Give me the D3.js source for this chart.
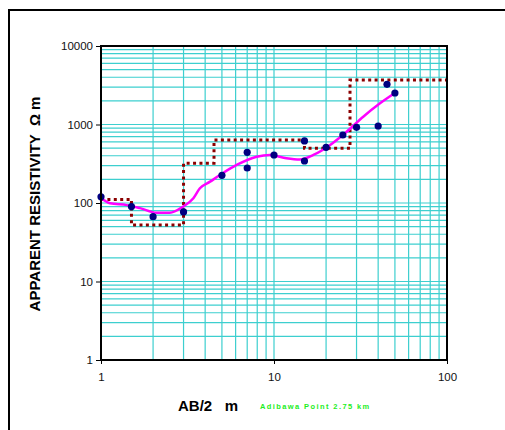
<!DOCTYPE html>
<html>
<head>
<meta charset="utf-8">
<script src="https://cdn.jsdelivr.net/npm/d3@7"></script>
<style>
  body { margin: 0; background: #fff; }
  svg { display: block; font-family: "Liberation Sans", Arial, sans-serif; }
</style>
</head>
<body>
<div id="chart"></div>
<script>
// field measurements (AB/2 in m, apparent resistivity in ohm m)
const spacing = [1, 1.5, 2, 3, 5, 7, 7, 10, 15, 15, 20, 25, 30, 40, 45, 50];
const resistivity = [120, 90, 67, 77, 225, 442, 279, 409, 617, 343, 512, 735, 921, 957, 3250, 2520];

// smooth fitted curve
const curveX = [1, 1.13, 1.41, 1.68, 2.1, 2.5, 2.98, 3.42, 3.73, 4.27, 4.87, 6.08, 7.94, 9.48, 11.8, 14.1, 16.9, 21.1, 26.3, 32.8, 41, 50];
const curveY = [116, 99, 94, 86, 75, 75, 90, 115, 154, 187, 227, 305, 389, 409, 371, 358, 409, 548, 809, 1257, 1862, 2520];

// layered model: layer bottoms (depth) and layer resistivities
const layerDepth = [1.5, 3, 4.5, 15, 27.5, 100];
const layerRho = [111, 52.5, 320, 635, 497, 3690];

const xTicks = [1, 10, 100];
const yTicks = [1, 10, 100, 1000, 10000];

const width = 505, height = 430;
const margin = { left: 101, top: 46, right: 58, bottom: 70 };

const svg = d3.select('#chart').append('svg')
  .attr('width', width)
  .attr('height', height);

// outer frame (only top and left edges show)
svg.append('rect')
  .attr('x', 9).attr('y', 10)
  .attr('width', 520).attr('height', 440)
  .attr('fill', 'none')
  .attr('stroke', '#000')
  .attr('stroke-width', 2);

const x = d3.scaleLog().domain([1, 100]).range([margin.left, width - margin.right]);
const y = d3.scaleLog().domain([1, 10000]).range([height - margin.bottom, margin.top]);

// minor grid
const gridX = [];
for (let d = 1; d < 100; d *= 10) for (let k = 2; k <= 10; k++) gridX.push(d * k);
const gridY = [];
for (let d = 1; d < 10000; d *= 10) for (let k = 2; k <= 10; k++) gridY.push(d * k);

const grid = svg.append('g').attr('stroke', '#3dcfcf').attr('stroke-width', 1.2);
grid.selectAll('.gx').data(gridX).enter().append('line')
  .attr('x1', d => x(d)).attr('x2', d => x(d))
  .attr('y1', y.range()[0]).attr('y2', y.range()[1]);
grid.selectAll('.gy').data(gridY).enter().append('line')
  .attr('x1', x.range()[0]).attr('x2', x.range()[1])
  .attr('y1', d => y(d)).attr('y2', d => y(d));

// layered model as dotted steps
const steps = [];
layerDepth.forEach((dep, i) => {
  const start = i === 0 ? 1 : layerDepth[i - 1];
  steps.push([start, layerRho[i]]);
  steps.push([dep, layerRho[i]]);
});
svg.append('path')
  .datum(steps)
  .attr('d', d3.line().x(d => x(d[0])).y(d => y(d[1])))
  .attr('fill', 'none')
  .attr('stroke', '#8b0000')
  .attr('stroke-width', 3)
  .attr('stroke-dasharray', '3,3.4');

// fitted curve
const curve = curveX.map((v, i) => [v, curveY[i]]);
svg.append('path')
  .datum(curve)
  .attr('d', d3.line().curve(d3.curveMonotoneX).x(d => x(d[0])).y(d => y(d[1])))
  .attr('fill', 'none')
  .attr('stroke', '#ff00ff')
  .attr('stroke-width', 2.5);

// measured points
svg.selectAll('.pt')
  .data(spacing.map((v, i) => [v, resistivity[i]]))
  .enter().append('circle')
  .attr('cx', d => x(d[0]))
  .attr('cy', d => y(d[1]))
  .attr('r', 3.6)
  .attr('fill', '#000080');

// plot border
svg.append('rect')
  .attr('x', x.range()[0]).attr('y', y.range()[1])
  .attr('width', x.range()[1] - x.range()[0])
  .attr('height', y.range()[0] - y.range()[1])
  .attr('fill', 'none')
  .attr('stroke', '#000')
  .attr('stroke-width', 2);

// axes
const xAxis = svg.append('g')
  .attr('transform', `translate(0,${y.range()[0]})`)
  .call(d3.axisBottom(x).tickValues(xTicks).tickFormat(d3.format('d')).tickSize(4).tickPadding(9));
const yAxis = svg.append('g')
  .attr('transform', `translate(${x.range()[0]},0)`)
  .call(d3.axisLeft(y).tickValues(yTicks).tickFormat(d3.format('d')).tickSize(5).tickPadding(3));
[xAxis, yAxis].forEach(a => {
  a.select('.domain').remove();
  a.selectAll('text').attr('font-size', 11.5).attr('fill', '#111')
    .attr('font-family', '"Liberation Sans", Arial, sans-serif');
  a.selectAll('line').attr('stroke', '#000');
});

// axis titles
svg.append('text')
  .attr('transform', 'translate(40,204) rotate(-90)')
  .attr('text-anchor', 'middle')
  .attr('font-size', 15)
  .attr('font-weight', 'bold')
  .attr('xml:space', 'preserve')
  .text('APPARENT RESISTIVITY  Ω m');

svg.append('text')
  .attr('x', 208).attr('y', 411)
  .attr('text-anchor', 'middle')
  .attr('font-size', 15)
  .attr('font-weight', 'bold')
  .attr('xml:space', 'preserve')
  .text('AB/2   m');

svg.append('text')
  .attr('x', 260).attr('y', 409)
  .attr('font-size', 7.5)
  .attr('font-weight', 'bold')
  .attr('letter-spacing', 1.4)
  .attr('fill', '#22ee22')
  .text('Adibawa Point 2.75 km');
</script>
</body>
</html>
